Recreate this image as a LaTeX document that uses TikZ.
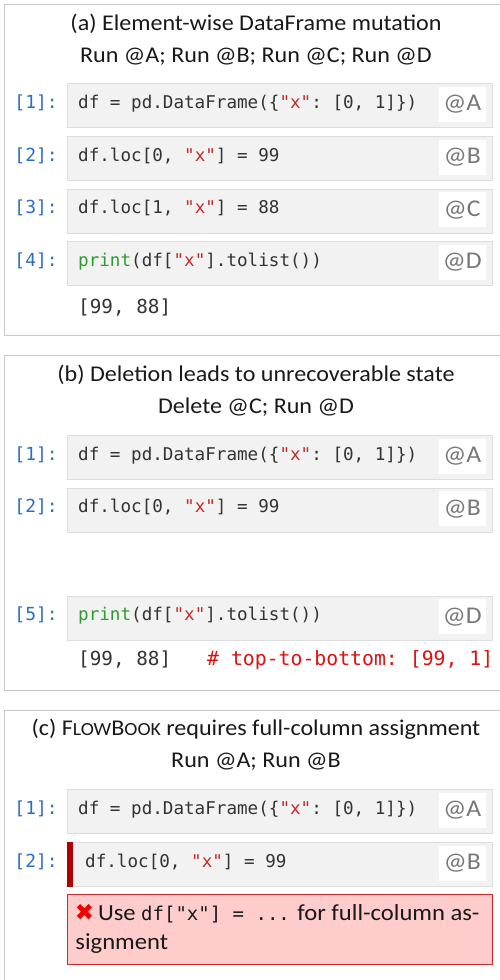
\documentclass[tikz,border=0pt]{standalone}
\usepackage{fontspec}
\setmainfont{Carlito}[FakeStretch=1.07]
\setmonofont{DejaVu Sans Mono}
\newfontfamily\symfont{DejaVu Sans}
\definecolor{panelborder}{HTML}{C8C8C8}
\definecolor{cellfill}{HTML}{F2F2F2}
\definecolor{cellborder}{HTML}{DDDDDD}
\definecolor{lblblue}{HTML}{2B6FC4}
\definecolor{strred}{HTML}{C62828}
\definecolor{kwgreen}{HTML}{2E9B2E}
\definecolor{codegray}{HTML}{333333}
\definecolor{tagtext}{HTML}{777777}
\definecolor{cmtred}{HTML}{E01010}
\definecolor{errfill}{HTML}{FFCCCC}
\definecolor{errborder}{HTML}{CC2A2A}
\definecolor{errbar}{HTML}{B00000}
\definecolor{xred}{HTML}{EE0000}
\newcommand{\sx}{\textcolor{strred}{"x"}}
\newcommand{\smc}[1]{{\fontsize{18.5}{18.5}\selectfont #1}}
\tikzset{
  panel/.style={draw=panelborder, line width=1pt, fill=white},
  cellbox/.style={draw=cellborder, fill=cellfill, line width=1pt, minimum width=425pt, minimum height=44pt, inner sep=0pt, anchor=north west},
  tagbox/.style={fill=white, text=tagtext, font=\fontsize{24}{24}\selectfont, minimum width=47pt, minimum height=35pt, inner sep=0pt, anchor=north east},
  codetext/.style={anchor=base west, inner sep=0pt, text=codegray, font=\ttfamily\fontsize{17.6}{20}\selectfont},
  outtext/.style={anchor=base west, inner sep=0pt, text=codegray, font=\ttfamily\fontsize{19.3}{20}\selectfont},
  lbl/.style={anchor=base east, inner sep=0pt, text=lblblue, font=\ttfamily\fontsize{18}{20}\selectfont},
  titletext/.style={anchor=base, inner sep=0pt, text=black!90, font=\fontsize{22.5}{22.5}\selectfont},
  errbox/.style={draw=errborder, fill=errfill, line width=1pt, minimum width=425pt, minimum height=70pt, inner sep=0pt, anchor=north west},
  errtext/.style={anchor=base west, inner sep=0pt, text=black!90, font=\fontsize{23}{23}\selectfont},
}
\begin{document}
\begin{tikzpicture}[x=1pt,y=-1pt]
\useasboundingbox (0,0) rectangle (500,980);
% ---------- panel (a)
\draw[panel] (4.7,4.3) rectangle (506,335);
\node[titletext] (ta1) at (256,30) {(a) Element-wise DataFrame mutation};
\node[titletext] (ta2) at (256,62) {Run @A; Run @B; Run @C; Run @D};
\node[cellbox] (a1) at (66.7,83.3) {};
\node[cellbox] (a2) at (66.7,136) {};
\node[cellbox] (a3) at (66.7,188.6) {};
\node[cellbox] (a4) at (66.7,241.3) {};
\foreach \c/\t/\n in {a1/A/1,a2/B/2,a3/C/3,a4/D/4}{
  \node[tagbox] (\c t) at ([xshift=-6.7pt,yshift=-3.5pt]\c.north east) {@\t};
}
\node[codetext] (a1c) at ([xshift=11.3pt,yshift=-25pt]a1.north west) {df = pd.DataFrame(\{\sx: [0, 1]\})};
\node[codetext] (a2c) at ([xshift=11.3pt,yshift=-25pt]a2.north west) {df.loc[0, \sx] = 99};
\node[codetext] (a3c) at ([xshift=11.3pt,yshift=-25pt]a3.north west) {df.loc[1, \sx] = 88};
\node[codetext] (a4c) at ([xshift=11.3pt,yshift=-25pt]a4.north west) {\textcolor{kwgreen}{print}(df[\sx].tolist())};
\node[lbl] (a1l) at ([xshift=-20pt]a1c.base west) {[1]:};
\node[lbl] (a2l) at ([xshift=-20pt]a2c.base west) {[2]:};
\node[lbl] (a3l) at ([xshift=-20pt]a3c.base west) {[3]:};
\node[lbl] (a4l) at ([xshift=-20pt]a4c.base west) {[4]:};
\node[outtext] (ao) at (78,313) {[99, 88]};
% ---------- panel (b)
\draw[panel] (4.7,355) rectangle (506,690);
\node[titletext] (tb1) at (256,381.7) {(b) Deletion leads to unrecoverable state};
\node[titletext] (tb2) at (256,413.3) {Delete @C; Run @D};
\node[cellbox] (b1) at (66.7,435) {};
\node[cellbox] (b2) at (66.7,487.7) {};
\node[cellbox] (b5) at (66.7,595.7) {};
\foreach \c/\t in {b1/A,b2/B,b5/D}{
  \node[tagbox] (\c t) at ([xshift=-6.7pt,yshift=-3.5pt]\c.north east) {@\t};
}
\node[codetext] (b1c) at ([xshift=11.3pt,yshift=-25pt]b1.north west) {df = pd.DataFrame(\{\sx: [0, 1]\})};
\node[codetext] (b2c) at ([xshift=11.3pt,yshift=-25pt]b2.north west) {df.loc[0, \sx] = 99};
\node[codetext] (b5c) at ([xshift=11.3pt,yshift=-25pt]b5.north west) {\textcolor{kwgreen}{print}(df[\sx].tolist())};
\node[lbl] (b1l) at ([xshift=-20pt]b1c.base west) {[1]:};
\node[lbl] (b2l) at ([xshift=-20pt]b2c.base west) {[2]:};
\node[lbl] (b5l) at ([xshift=-20pt]b5c.base west) {[5]:};
\node[outtext] (bo) at (78,665) {[99, 88]};
\node[outtext, text=cmtred, font=\ttfamily\fontsize{19.8}{20}\selectfont] (bcm) at (207,665) {\# top-to-bottom: [99, 1]};
% ---------- panel (c)
\draw[panel] (4.7,710) rectangle (506,995);
\node[titletext] (tc1) at (256,735.5) {(c) F\smc{LOW}B\smc{OOK} requires full-column assignment};
\node[titletext] (tc2) at (256,767) {Run @A; Run @B};
\node[cellbox] (c1) at (66.7,789.3) {};
\node[cellbox] (c2) at (66.7,842) {};
\fill[errbar] (c2.north west) rectangle ([xshift=6.5pt]c2.south west);
\foreach \c/\t in {c1/A,c2/B}{
  \node[tagbox] (\c t) at ([xshift=-6.7pt,yshift=-3.5pt]\c.north east) {@\t};
}
\node[codetext] (c1c) at ([xshift=11.3pt,yshift=-25pt]c1.north west) {df = pd.DataFrame(\{\sx: [0, 1]\})};
\node[codetext] (c2c) at ([xshift=18.3pt,yshift=-25pt]c2.north west) {df.loc[0, \sx] = 99};
\node[lbl] (c1l) at ([xshift=-20pt]c1c.base west) {[1]:};
\node[lbl] (c2l) at ([xshift=-27pt]c2c.base west) {[2]:};
\node[errbox] (cerr) at (66.7,894.3) {};
\node[errtext] (ce1) at ([xshift=8pt,yshift=-26pt]cerr.north west) {{\symfont\color{xred}\fontsize{23}{23}\selectfont ✖}\,Use {\ttfamily\fontsize{19}{20}\selectfont df["x"] = ...} for full-column as-};
\node[errtext] (ce2) at ([xshift=0.5pt,yshift=-29pt]ce1.base west) {signment};
\end{tikzpicture}
\end{document}
